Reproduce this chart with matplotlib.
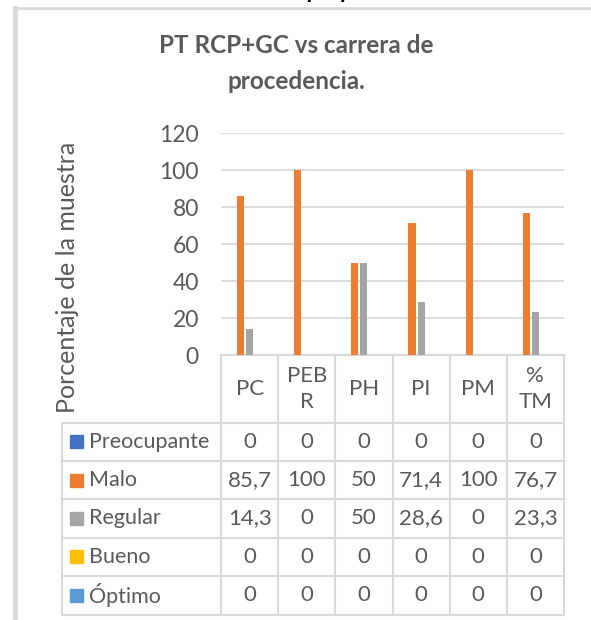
import matplotlib.pyplot as plt
from matplotlib.patches import Rectangle

plt.rcParams['font.family'] = ['Lato', 'DejaVu Sans']

categories = ["PC", "PEB\nR", "PH", "PI", "PM", "%\nTM"]
series = ["Preocupante", "Malo", "Regular", "Bueno", "Óptimo"]
preocupante = [0, 0, 0, 0, 0, 0]
malo = [85.7, 100, 50, 71.4, 100, 76.7]
regular = [14.3, 0, 50, 28.6, 0, 23.3]
bueno = [0, 0, 0, 0, 0, 0]
optimo = [0, 0, 0, 0, 0, 0]
values = [preocupante, malo, regular, bueno, optimo]
colors = ["#4472C4", "#ED7D31", "#A5A5A5", "#FFC000", "#5B9BD5"]

W, H = 591, 620
TXT = "#595959"
GRID = "#D9D9D9"
FS = 16

fig = plt.figure(figsize=(W / 100, H / 100), dpi=100)

# overlay in pixel coordinates for frame, titles and table
ov = fig.add_axes([0, 0, 1, 1])
ov.set_xlim(0, W)
ov.set_ylim(H, 0)
ov.axis("off")

# plot area
left, right, top, bottom = 221, 564, 133, 355
ax = fig.add_axes([left / W, 1 - bottom / H, (right - left) / W, (bottom - top) / H])
ax.set_xlim(-0.5, len(categories) - 0.5)
ax.set_ylim(0, 120)
ax.set_yticks(range(0, 121, 20))
ax.set_xticks([])
for s in ax.spines.values():
    s.set_visible(False)
ax.yaxis.grid(True, color=GRID, linewidth=1.3)
ax.set_axisbelow(True)
ax.tick_params(axis="y", length=0, pad=16, labelsize=16.5, labelcolor=TXT)
ax.patch.set_alpha(0)

width = 0.125
step = 0.16
x = list(range(len(categories)))
for k, (vals, c) in enumerate(zip(values, colors)):
    ax.bar([i + (k - 2) * step for i in x], vals, width=width, color=c, zorder=3)

# outer frame pieces
ov.plot([15, 15], [8, H], color="#D9D9D9", linewidth=3.5)
ov.plot([15, W], [8, 8], color="#D9D9D9", linewidth=2)

# cut-off caption at the very top
ov.text(378, -1.5, "Fuente: elaboración propia.", ha="right", va="baseline",
        fontsize=17, fontweight="bold", fontstyle="italic", color="black")

# title
ov.text(296, 53, "PT RCP+GC vs carrera de", ha="center", va="baseline",
        fontsize=17.5, fontweight="bold", color=TXT)
ov.text(296, 89, "procedencia.", ha="center", va="baseline",
        fontsize=17.5, fontweight="bold", color=TXT)

# y label
ov.text(68, 277, "Porcentaje de la muestra", rotation=90, ha="center", va="center",
        fontsize=18, color=TXT)

# data table
ncol = len(categories)
cw = (right - left) / ncol
col_edges = [left + i * cw for i in range(ncol + 1)]
header_bottom = 422.5
rh = 38.4
row_edges = [header_bottom + j * rh for j in range(len(series) + 1)]
leg_left = 62
lw = 1.5

ov.plot([left, right], [bottom, bottom], color=GRID, linewidth=lw)
for xe in col_edges:
    ov.plot([xe, xe], [bottom, row_edges[-1]], color=GRID, linewidth=lw)
ov.plot([leg_left, leg_left], [header_bottom, row_edges[-1]], color=GRID, linewidth=lw)
for ye in row_edges:
    ov.plot([leg_left, right], [ye, ye], color=GRID, linewidth=lw)

for i, cat in enumerate(categories):
    ov.text(col_edges[i] + cw / 2, (bottom + header_bottom) / 2, cat, ha="center",
            va="center", fontsize=FS, color=TXT, linespacing=1.35)

for j, (name, vals, c) in enumerate(zip(series, values, colors)):
    yc = row_edges[j] + rh / 2
    ov.add_patch(Rectangle((70, yc - 6.5), 13, 13, color=c))
    ov.text(89, yc, name, ha="left", va="center", fontsize=FS - 0.5, color=TXT)
    for i, v in enumerate(vals):
        label = ("%g" % v).replace(".", ",")
        ov.text(col_edges[i] + cw / 2, yc, label, ha="center", va="center",
                fontsize=FS, color=TXT)

fig.savefig("out.png", dpi=100)
